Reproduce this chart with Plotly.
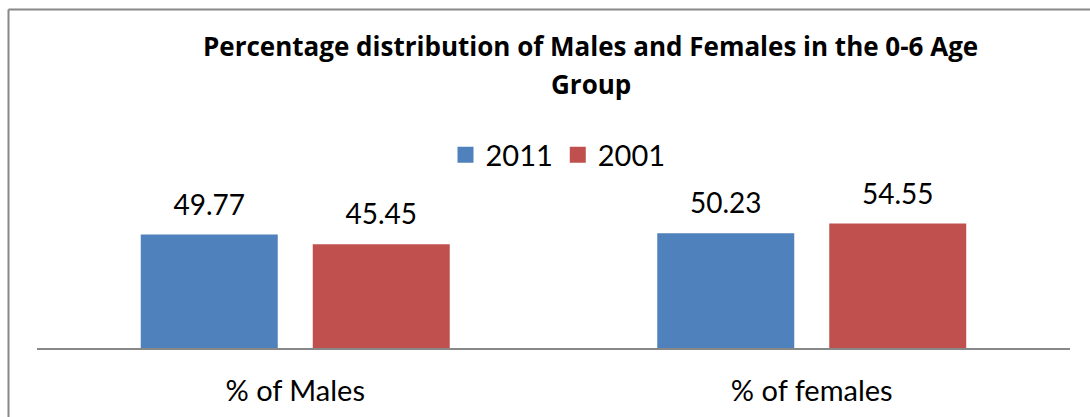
import plotly.graph_objects as go

categories = ["% of Males", "% of females"]
series_names = ["2011", "2001"]
values_2011 = [49.77, 50.23]
values_2001 = [45.45, 54.55]
colors = ["#4F81BD", "#C0504D"]

title_line1 = "Percentage distribution of Males and Females in the 0-6 Age"
title_line2 = "Group"

W, H = 1090, 417
FONT = "Lato"
TITLE_FONT = "Open Sans"

fig = go.Figure()
series = [values_2011, values_2001]
for name, vals, col in zip(series_names, series, colors):
    fig.add_trace(go.Bar(
        x=categories, y=vals, name=name, marker=dict(color=col, line=dict(width=0)),
        offsetgroup=name, alignmentgroup="g", showlegend=False, hoverinfo="skip",
    ))
for name, vals, col in zip(series_names, series, colors):
    fig.add_trace(go.Scatter(
        x=categories, y=vals, mode="markers+text", text=[f"{v:.2f}" for v in vals],
        textposition="top center", textfont=dict(family=FONT, size=28, color="black"),
        marker=dict(size=19, opacity=0, color=col), offsetgroup=name, alignmentgroup="g",
        showlegend=False, cliponaxis=False, hoverinfo="skip",
    ))
for name, col in zip(series_names, colors):
    fig.add_trace(go.Scatter(
        x=[None], y=[None], mode="markers", name=name,
        marker=dict(symbol="square", size=17, color=col), offsetgroup=name, alignmentgroup="g",
    ))

base_px = 348
px_per_unit = 2.283
ymax = 60
top_px = base_px - ymax * px_per_unit

fig.update_layout(
    width=W, height=H, autosize=False,
    margin=dict(l=0, r=0, t=0, b=0),
    paper_bgcolor="white", plot_bgcolor="white",
    barmode="group", bargap=0.334, bargroupgap=0.2035,
    scattermode="group", scattergap=0.334,
    font=dict(family=FONT, size=28, color="black"),
    xaxis=dict(domain=[37 / W, 1070 / W], showline=True, linecolor="#888888", linewidth=2,
               showgrid=False, zeroline=False, ticks="outside", ticklen=16, tickcolor="rgba(0,0,0,0)",
               tickfont=dict(family=FONT, size=29, color="black")),
    yaxis=dict(domain=[(H - base_px) / H, (H - top_px) / H], range=[0, ymax], visible=False),
    legend=dict(orientation="h", x=558 / W, xanchor="center", y=(H - 155) / H, yanchor="middle",
                font=dict(family=FONT, size=29, color="black"), bgcolor="rgba(0,0,0,0)",
                itemwidth=30, traceorder="normal"),
    showlegend=True,
    annotations=[
        dict(text=f"<b>{title_line1}</b>", x=591 / W, y=1 - 46 / H, xref="paper", yref="paper",
             xanchor="center", yanchor="middle", showarrow=False,
             font=dict(family=TITLE_FONT, size=26, color="black")),
        dict(text=f"<b>{title_line2}</b>", x=591 / W, y=1 - 84 / H, xref="paper", yref="paper",
             xanchor="center", yanchor="middle", showarrow=False,
             font=dict(family=TITLE_FONT, size=26, color="black")),
    ],
    shapes=[
        dict(type="line", xref="paper", yref="paper", x0=8.5 / W, x1=8.5 / W, y0=1 - 9.5 / H, y1=-0.05,
             line=dict(color="#888888", width=2)),
        dict(type="line", xref="paper", yref="paper", x0=8.5 / W, x1=1.05, y0=1 - 9.5 / H, y1=1 - 9.5 / H,
             line=dict(color="#888888", width=2)),
    ],
)

fig.write_html("out.html", config={"displayModeBar": False},
               post_script="document.body.style.margin='0';document.body.style.overflow='hidden';")
